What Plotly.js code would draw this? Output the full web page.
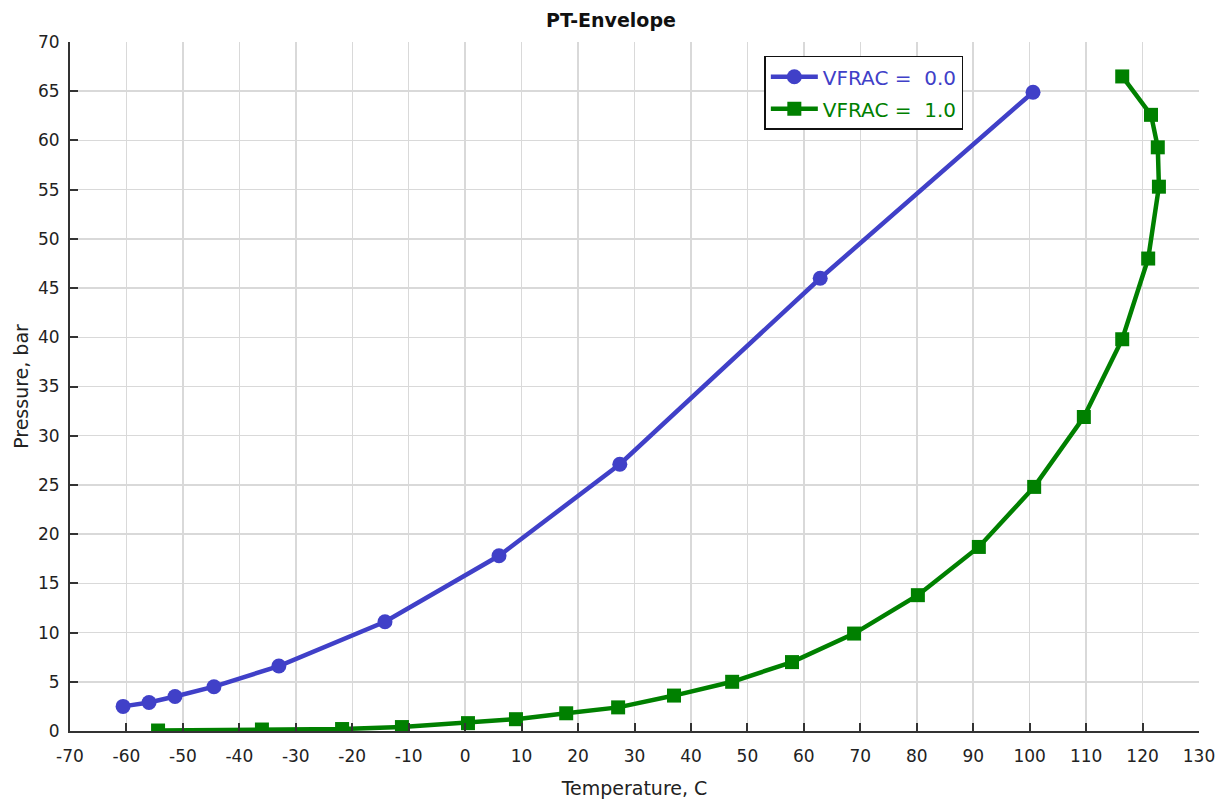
<!DOCTYPE html>
<html>
<head>
<meta charset="utf-8">
<script src="https://cdn.plot.ly/plotly-3.0.1.min.js"></script>
<style>html,body{margin:0;padding:0;background:#fff;}#chart{width:1222px;height:802px;}</style>
</head>
<body>
<div id="chart"></div>
<script>
const liquidT = [-60.6, -56.0, -51.4, -44.5, -33.0, -14.2, 6.0, 27.4, 62.9, 100.6];
const liquidP = [2.5, 2.9, 3.5, 4.5, 6.6, 11.1, 17.8, 27.1, 46.0, 64.9];
const vaporT = [-54.4, -36.0, -21.8, -11.2, 0.5, 9.0, 17.9, 27.1, 37.0, 47.3, 57.9, 68.9, 80.2, 91.0, 100.8, 109.6, 116.4, 121.0, 122.9, 122.7, 121.5, 116.4];
const vaporP = [0.05, 0.15, 0.2, 0.4, 0.8, 1.2, 1.8, 2.4, 3.6, 5.0, 7.0, 9.9, 13.8, 18.7, 24.8, 31.9, 39.8, 48.0, 55.3, 59.3, 62.6, 66.5];
const xTickVals = [-70, -60, -50, -40, -30, -20, -10, 0, 10, 20, 30, 40, 50, 60, 70, 80, 90, 100, 110, 120, 130];
const xTickText = ['-70', '-60', '-50', '-40', '-30', '-20', '-10', '0', '10', '20', '30', '40', '50', '60', '70', '80', '90', '100', '110', '120', '130'];
const names = ['VFRAC =&nbsp;&nbsp;0.0', 'VFRAC =&nbsp;&nbsp;1.0'];
const colors = ['#4040c8', '#008000'];

const font = 'DejaVu Sans, Verdana, sans-serif';
const traces = [
  {x: liquidT, y: liquidP, mode: 'lines+markers', legendgroup: 'a', name: '<span style="color:' + colors[0] + '">' + names[0] + '</span>',
   line: {color: colors[0], width: 4.5}, marker: {symbol: 'circle', size: 15, color: colors[0]}},
  {x: vaporT, y: vaporP, mode: 'lines+markers', legendgroup: 'b', name: '<span style="color:' + colors[1] + '">' + names[1] + '</span>',
   line: {color: colors[1], width: 4.5}, marker: {symbol: 'square', size: 14, color: colors[1]}}
];
const axisCommon = {
  showgrid: true, gridcolor: '#d9d9d9', gridwidth: 1.5,
  showline: true, linecolor: '#333', linewidth: 2,
  ticks: 'inside', ticklen: 8, tickwidth: 2, tickcolor: '#333',
  zeroline: false, tickfont: {family: font, size: 17, color: '#222'},
  mirror: false
};
const layout = {
  width: 1222, height: 802,
  margin: {l: 70, r: 23, t: 42, b: 71},
  paper_bgcolor: '#fff', plot_bgcolor: '#fff',
  title: {text: '<b>PT-Envelope</b>', font: {family: font, size: 19, color: '#111'}, x: 0.5, xanchor: 'center', y: 0.975, yanchor: 'middle'},
  xaxis: Object.assign({}, axisCommon, {range: [-70, 130], tickmode: 'array', tickvals: xTickVals, ticktext: xTickText,
    ticklabelstandoff: 9,
    title: {text: 'Temperature, C', font: {family: font, size: 19, color: '#222'}, standoff: 16}}),
  yaxis: Object.assign({}, axisCommon, {range: [0, 70], dtick: 5, tick0: 0, ticklabelstandoff: 5,
    title: {text: 'Pressure, bar', font: {family: font, size: 19, color: '#222'}, standoff: 4}}),
  legend: {x: 0.615, y: 0.98, xanchor: 'left', yanchor: 'top', bgcolor: '#fff', bordercolor: '#111', borderwidth: 1.5,
    font: {family: font, size: 20}, traceorder: 'grouped', tracegroupgap: 3, itemwidth: 47},
  showlegend: true
};
Plotly.newPlot('chart', traces, layout, {displayModeBar: false, staticPlot: true});
</script>
</body>
</html>
